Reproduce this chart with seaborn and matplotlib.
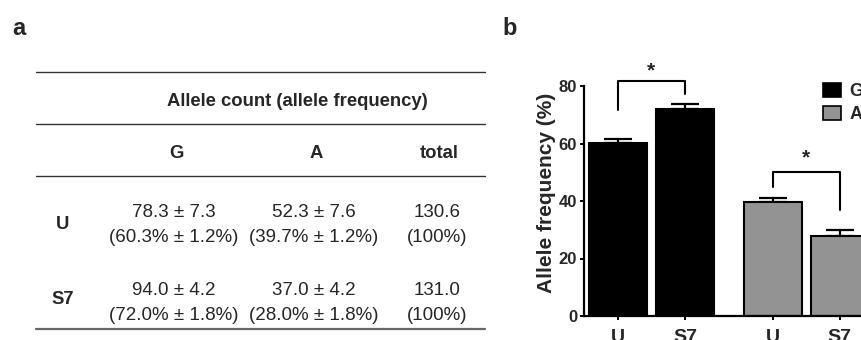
import matplotlib
matplotlib.use("Agg")
import matplotlib.pyplot as plt
from matplotlib.lines import Line2D
import numpy as np
import pandas as pd
import seaborn as sns

# ---- data -------------------------------------------------------------
groups = ["U", "S7"]
g_count = [78.3, 94.0]
g_count_sd = [7.3, 4.2]
g_freq = [60.3, 72.0]
g_freq_sd = [1.2, 1.8]
a_count = [52.3, 37.0]
a_count_sd = [7.6, 4.2]
a_freq = [39.7, 28.0]
a_freq_sd = [1.2, 1.8]
totals = [130.6, 131.0]
total_pct = [100, 100]

alleles = ["G", "A"]
bar_pos = [0.0, 1.0, 2.31, 3.31]
y_ticks = [0, 20, 40, 60, 80]

W, H = 862, 340

sns.set_theme(style="ticks")
plt.rcParams["font.family"] = ["Liberation Sans", "DejaVu Sans"]

fig = plt.figure(figsize=(W / 100, H / 100), dpi=100)


def fx(x):
    return x / W


def fy(y):
    return 1 - y / H


# ---- panel a: allele count table --------------------------------------
fig.text(fx(12), fy(35), "a", fontsize=17, fontweight="bold", ha="left", va="baseline")

for y, lw, col in [(71.7, 1.0, "#333333"), (124.3, 1.0, "#333333"),
                   (176, 1.0, "#333333"), (329, 1.6, "#666666")]:
    fig.add_artist(Line2D([fx(36), fx(485)], [fy(y), fy(y)], lw=lw, color=col,
                          transform=fig.transFigure))

fig.text(fx(297), fy(106), "Allele count (allele frequency)", fontsize=13.3,
         fontweight="bold", ha="center", va="baseline")

col_x = [174, 314, 437]
for cx, name in zip(col_x, ["G", "A", "total"]):
    fig.text(fx(cx + 2), fy(158), name, fontsize=13.3, fontweight="bold",
             ha="center", va="baseline")

row_base = [(216.7, 241.7, 229.3), (295, 320, 304.3)]
for i, grp in enumerate(groups):
    b1, b2, bl = row_base[i]
    fig.text(fx(63), fy(bl), grp, fontsize=13.3, fontweight="bold",
             ha="center", va="baseline")
    cells = [
        (f"{g_count[i]:.1f} \u00b1 {g_count_sd[i]:.1f}",
         f"({g_freq[i]:.1f}% \u00b1 {g_freq_sd[i]:.1f}%)"),
        (f"{a_count[i]:.1f} \u00b1 {a_count_sd[i]:.1f}",
         f"({a_freq[i]:.1f}% \u00b1 {a_freq_sd[i]:.1f}%)"),
        (f"{totals[i]:.1f}", f"({total_pct[i]}%)"),
    ]
    for cx, (l1, l2) in zip(col_x, cells):
        fig.text(fx(cx), fy(b1), l1, fontsize=13.5, ha="center", va="baseline")
        fig.text(fx(cx), fy(b2), l2, fontsize=13.5, ha="center", va="baseline")

# ---- panel b: allele frequency bars -----------------------------------
fig.text(fx(502), fy(35), "b", fontsize=17, fontweight="bold", ha="left", va="baseline")

df = pd.DataFrame({
    "pos": bar_pos,
    "freq": g_freq + a_freq,
    "sd": g_freq_sd + a_freq_sd,
    "allele": [alleles[0]] * 2 + [alleles[1]] * 2,
    "group": groups + groups,
})

ax = fig.add_axes([fx(584), 24 / H, 316 / W, 230 / H])
sns.barplot(data=df, x="pos", y="freq", hue="allele", native_scale=True,
            dodge=False, width=0.866, palette={"G": "black", "A": "#939393"},
            edgecolor="black", linewidth=1.5, errorbar=None, ax=ax, zorder=2)
ax.errorbar(df["pos"], df["freq"], yerr=[np.zeros(len(df)), df["sd"]],
            fmt="none", ecolor="black", elinewidth=1.6, capsize=10,
            capthick=1.6, zorder=1)

ax.set_xlim(-0.507, 4.21)
ax.set_ylim(0, 80)
ax.set_yticks(y_ticks)
ax.set_yticklabels([str(t) for t in y_ticks], fontsize=12, fontweight="bold")
ax.set_xticks(bar_pos)
ax.set_xticklabels(df["group"], fontsize=14, fontweight="bold")
ax.tick_params(axis="both", length=3, width=1.4, color="black", pad=2)
ax.tick_params(axis="x", pad=6.5)
ax.set_xlabel("")
ax.set_ylabel("Allele frequency (%)", fontsize=15, fontweight="bold", va="center")
ax.yaxis.set_label_coords((546 - 584) / 316, (316 - 192.5) / 230)
for side in ["top", "right"]:
    ax.spines[side].set_visible(False)
for side in ["left", "bottom"]:
    ax.spines[side].set_linewidth(1.6)
    ax.spines[side].set_color("black")


# significance brackets between U and S7 of each allele
def bracket(x0, x1, top, y0, y1, star_y):
    ax.plot([x0, x0, x1, x1], [y0, top, top, y1], color="black", lw=1.5,
            clip_on=False, zorder=3)
    ax.text((x0 + x1) / 2, star_y, "*", ha="center", va="center",
            fontsize=15, fontweight="bold", clip_on=False)


top_g = [f + s for f, s in zip(g_freq, g_freq_sd)]
top_a = [f + s for f, s in zip(a_freq, a_freq_sd)]
bracket(bar_pos[0], bar_pos[1], top_g[1] + 8.0, top_g[0] + 10.1, top_g[1] + 3.4,
        top_g[1] + 11.5)
bracket(bar_pos[2], bar_pos[3], top_a[0] + 9.2, top_a[0] + 4.0, top_a[1] + 7.1,
        top_a[0] + 14.2)

leg = ax.legend(loc="upper left", bbox_to_anchor=(fx(823), fy(83)),
                bbox_transform=fig.transFigure, frameon=False,
                prop={"weight": "bold", "size": 13}, handlelength=1.0,
                handleheight=0.85, handletextpad=0.45, labelspacing=0.3,
                borderpad=0, borderaxespad=0)
for h in leg.legend_handles:
    h.set_edgecolor("black")
    h.set_linewidth(1.2)

fig.savefig("out.png", dpi=100)
